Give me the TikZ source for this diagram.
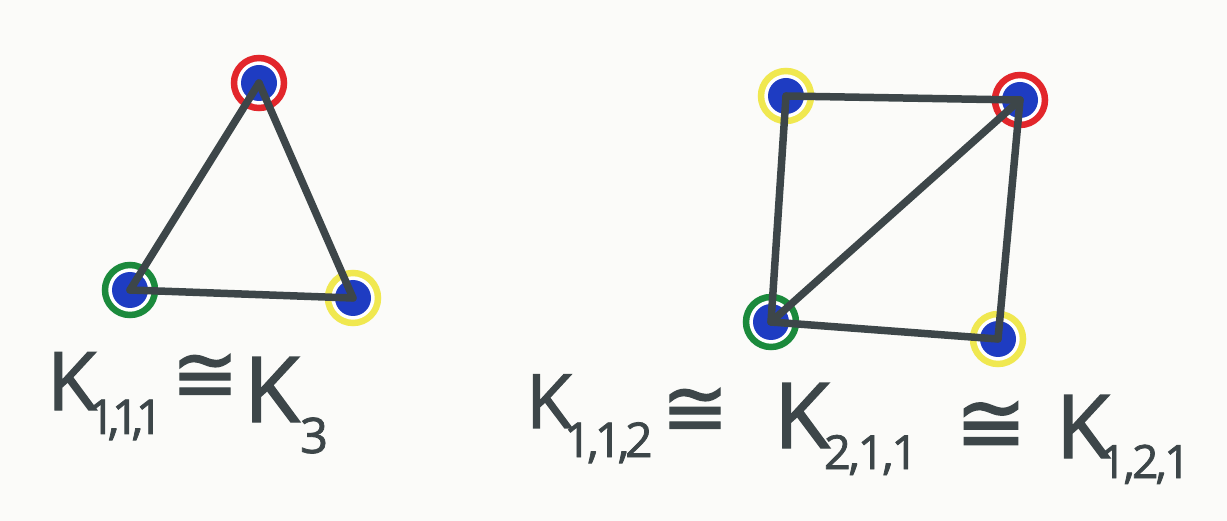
\documentclass[tikz,border=0pt]{standalone}
\usepackage{fontspec}
\setmainfont{Open Sans}
\newfontfamily\hand[FakeBold=1.6]{Open Sans}
\newfontfamily\symfont[FakeBold=1.6]{DejaVu Sans}
\definecolor{bgc}{HTML}{FBFBF9}
\definecolor{ink}{HTML}{3D4649}
\definecolor{dotblue}{HTML}{1E3CC2}
\definecolor{rred}{HTML}{E2262B}
\definecolor{rgreen}{HTML}{1B8A3C}
\definecolor{ryellow}{HTML}{F0E850}
\newcommand{\sk}[1]{\kern#1em}
\tikzset{
  vert/.style={circle, draw=#1, line width=6.5pt, fill=white, minimum size=50pt, inner sep=0pt,
    path picture={\fill[dotblue] (path picture bounding box.center) circle (18pt);}},
  edge/.style={draw=ink, line width=7.5pt, line cap=round},
  txt/.style={text=ink, inner sep=0pt, outer sep=0pt, font=\hand},
}
\newcommand{\fs}[1]{\fontsize{#1}{#1}\selectfont}
\begin{document}
\begin{tikzpicture}[x=1pt,y=-1pt]
\useasboundingbox (0,0) rectangle (1227,521);
\fill[bgc] (0,0) rectangle (1227,521);
% left graph
\node[vert=rred] (a) at (259,83) {};
\node[vert=rgreen] (b) at (130,290) {};
\node[vert=ryellow] (c) at (353,298) {};
\draw[edge] (a.center) -- (b.center);
\draw[edge] (a.center) -- (c.center);
\draw[edge] (b.center) -- (c.center);
% right graph
\node[vert=ryellow] (p) at (786,96) {};
\node[vert=rred] (q) at (1020,100) {};
\node[vert=rgreen] (r) at (771,322) {};
\node[vert=ryellow] (s) at (998,339) {};
\draw[edge] (p.center) -- (q.center);
\draw[edge] (p.center) -- (r.center);
\draw[edge] (q.center) -- (r.center);
\draw[edge] (q.center) -- (s.center);
\draw[edge] (r.center) -- (s.center);
% left label
\node[txt, anchor=base west] (k1) at (47,410) {\fs{81}K};
\node[txt, anchor=base west] (k1s) at (88,434) {\fs{48}1\sk{-0.16},\sk{-0.16}1\sk{-0.16},\sk{-0.16}1};
\node[txt] (c1) at (205,378) {\symfont\fs{80}≅};
\node[txt, anchor=base west] (k3) at (244,422) {\fs{91}K};
\node[txt, anchor=base west] (k3s) at (300,453) {\fs{49}3};
% right label
\node[txt, anchor=base west] (ka) at (526,428) {\fs{75}K};
\node[txt, anchor=base west] (kas) at (564,457) {\fs{48}1\sk{-0.09},\sk{-0.09}1\sk{-0.09},\sk{-0.09}2};
\node[txt] (c2) at (695,412) {\symfont\fs{80}≅};
\node[txt, anchor=base west] (kb) at (774,448) {\fs{91}K};
\node[txt, anchor=base west] (kbs) at (824,469) {\fs{47}2\sk{-0.05},\sk{-0.05}1\sk{-0.05},\sk{-0.05}1};
\node[txt] (c3) at (991,427) {\symfont\fs{85}≅};
\node[txt, anchor=base west] (kc) at (1056,458) {\fs{88}K};
\node[txt, anchor=base west] (kcs) at (1100,478) {\fs{46}1\sk{-0.06},\sk{-0.06}2\sk{-0.06},\sk{-0.06}1};
\end{tikzpicture}
\end{document}
